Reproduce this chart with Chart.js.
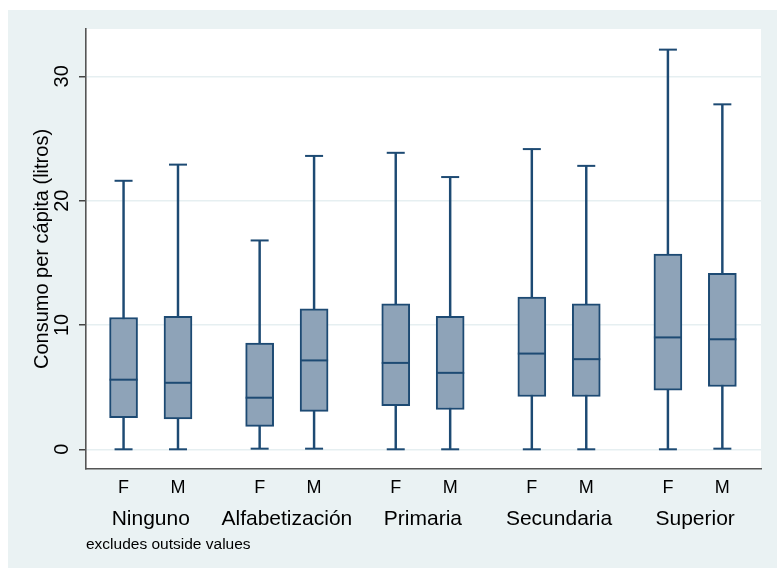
<!DOCTYPE html>
<html>
<head>
<meta charset="utf-8">
<script src="https://cdn.jsdelivr.net/npm/chart.js@4/dist/chart.umd.min.js"></script>
<style>
  html, body { margin: 0; padding: 0; background: #ffffff; }
  #wrap { width: 777px; height: 568px; }
</style>
</head>
<body>
<div id="wrap"><canvas id="c" width="777" height="568"></canvas></div>
<script>
// Education level groups and sex within each group
const groups = ['Ninguno', 'Alfabetización', 'Primaria', 'Secundaria', 'Superior'];
const sexes = ['F', 'M'];

// Box plot statistics, ordered Ninguno F, Ninguno M, Alfabetización F, ...
const lowerWhisker = [0.00, 0.00, 0.05, 0.05, 0.00, 0.00, 0.00, 0.00, 0.00, 0.05];
const quartile1    = [2.55, 2.45, 1.85, 3.05, 3.50, 3.20, 4.25, 4.25, 4.75, 5.05];
const medianValue  = [5.60, 5.35, 4.15, 7.15, 6.95, 6.15, 7.70, 7.25, 9.00, 8.85];
const quartile3    = [10.60, 10.70, 8.55, 11.30, 11.70, 10.70, 12.25, 11.70, 15.70, 14.15];
const upperWhisker = [21.60, 22.90, 16.80, 23.60, 23.85, 21.90, 24.15, 22.80, 32.15, 27.75];

const yTicks = [0, 10, 20, 30];
const yTitle = 'Consumo per cápita (litros)';
const note = 'excludes outside values';

// x layout: two boxes per group, groups spaced apart
const GROUP_STEP = 5, SEX_STEP = 2;
const positions = [];
const boxLabels = [];
groups.forEach((g, gi) => sexes.forEach((s, si) => {
  positions.push(gi * GROUP_STEP + si * SEX_STEP);
  boxLabels.push(s);
}));
const groupCenters = groups.map((g, gi) => gi * GROUP_STEP + SEX_STEP / 2);

const LINE = '#1d4a73';
const FILL = '#8ea3b8';
const FONT = "'Liberation Sans', Arial, Helvetica, sans-serif";

const backdrop = {
  id: 'backdrop',
  beforeDraw(chart) {
    const { ctx, chartArea: a, width, height } = chart;
    ctx.save();
    ctx.fillStyle = '#ffffff';
    ctx.fillRect(0, 0, width, height);
    ctx.fillStyle = '#eaf2f3';
    ctx.fillRect(8, 10, width - 8, height - 10);
    ctx.fillStyle = '#ffffff';
    ctx.fillRect(a.left, a.top, a.right - a.left, a.bottom - a.top);
    ctx.restore();
  }
};

const capPoints = (arr) => positions.map((x, i) => ({ x, y: arr[i] }));

new Chart(document.getElementById('c'), {
  type: 'bar',
  data: {
    datasets: [
      {
        type: 'bar',
        label: 'whiskers',
        data: positions.map((x, i) => ({ x, y: [lowerWhisker[i], upperWhisker[i]] })),
        backgroundColor: LINE,
        borderWidth: 0,
        barThickness: 1.8,
        grouped: false,
        order: 3
      },
      {
        type: 'bar',
        label: 'boxes',
        data: positions.map((x, i) => ({ x, y: [quartile1[i], quartile3[i]] })),
        backgroundColor: FILL,
        borderColor: LINE,
        borderWidth: 2,
        borderSkipped: false,
        barThickness: 28,
        grouped: false,
        order: 2
      },
      {
        type: 'scatter',
        label: 'median',
        data: capPoints(medianValue),
        pointStyle: 'line',
        pointRadius: 14,
        pointHoverRadius: 14,
        borderColor: LINE,
        borderWidth: 2,
        order: 1
      },
      {
        type: 'scatter',
        label: 'upper',
        data: capPoints(upperWhisker),
        pointStyle: 'line',
        pointRadius: 9,
        pointHoverRadius: 9,
        borderColor: LINE,
        borderWidth: 2,
        order: 1
      },
      {
        type: 'scatter',
        label: 'lower',
        data: capPoints(lowerWhisker),
        pointStyle: 'line',
        pointRadius: 9,
        pointHoverRadius: 9,
        borderColor: LINE,
        borderWidth: 2,
        order: 1
      }
    ]
  },
  options: {
    responsive: false,
    animation: false,
    devicePixelRatio: 1,
    layout: { padding: { left: 8, right: 9, top: 29, bottom: 10 } },
    plugins: { legend: { display: false }, tooltip: { enabled: false } },
    scales: {
      x: {
        type: 'linear',
        position: 'bottom',
        min: -1.38,
        max: 23.42,
        offset: false,
        weight: 0,
        grid: { display: false, drawTicks: false },
        border: { display: true, color: '#555555', width: 1.6 },
        afterBuildTicks(scale) { scale.ticks = positions.map(v => ({ value: v })); },
        afterFit(scale) { scale.height = 29; },
        ticks: {
          autoSkip: false,
          maxRotation: 0,
          padding: 8,
          color: '#000000',
          font: { family: FONT, size: 18 },
          callback(value) { return boxLabels[positions.indexOf(value)]; }
        }
      },
      x2: {
        type: 'linear',
        position: 'bottom',
        min: -1.38,
        max: 23.42,
        offset: false,
        weight: 1,
        grid: { display: false, drawTicks: false },
        border: { display: false },
        afterBuildTicks(scale) { scale.ticks = groupCenters.map(v => ({ value: v })); },
        afterFit(scale) { scale.height = 60; },
        ticks: {
          autoSkip: false,
          maxRotation: 0,
          padding: 9,
          color: '#000000',
          font: { family: FONT, size: 21 },
          callback(value) { return groups[groupCenters.indexOf(value)]; }
        },
        title: {
          display: true,
          text: note,
          align: 'start',
          color: '#000000',
          font: { family: FONT, size: 15.5 },
          padding: { top: 0, bottom: 4 }
        }
      },
      y: {
        type: 'linear',
        position: 'left',
        min: -1.585,
        max: 33.81,
        afterBuildTicks(scale) { scale.ticks = yTicks.map(v => ({ value: v })); },
        afterFit(scale) { scale.width = 78; },
        grid: {
          color: '#e6eff1',
          lineWidth: 1.5,
          tickColor: '#444444',
          tickWidth: 1.5,
          tickLength: 7
        },
        border: { display: true, color: '#555555', width: 1.6 },
        ticks: {
          minRotation: 90,
          maxRotation: 90,
          crossAlign: 'center',
          padding: 5,
          color: '#000000',
          font: { family: FONT, size: 20 }
        },
        title: {
          display: true,
          text: yTitle,
          color: '#000000',
          font: { family: FONT, size: 20 },
          padding: { top: 22, bottom: 0 }
        }
      }
    }
  },
  plugins: [backdrop]
});
</script>
</body>
</html>
